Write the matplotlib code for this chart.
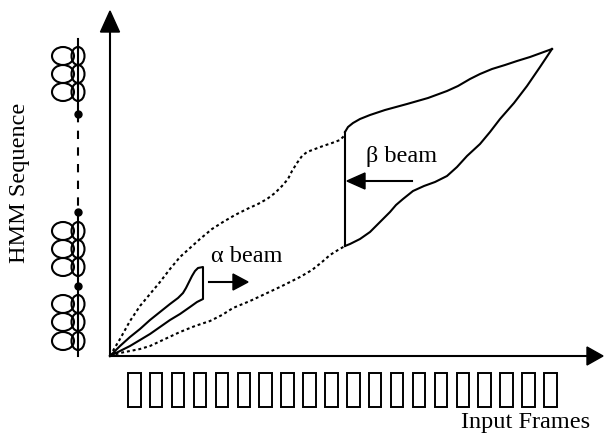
import matplotlib
matplotlib.use("Agg")
from matplotlib import pyplot as plt
from matplotlib.patches import Ellipse, Polygon, Rectangle

# all coordinates are in picture pixels (y goes down)
origin = (110, 357)

upper_dotted_x = [110, 114, 120, 130, 140, 150, 160, 170, 180, 190, 200, 212, 223, 235, 247,
                  258, 267, 275, 282, 288, 292, 297, 302, 307, 315, 323, 332, 340, 345]
upper_dotted_y = [357, 350, 340, 322, 307, 295, 283, 270, 258, 249, 240, 230, 223, 216, 210,
                  205, 200, 194, 187, 180, 172, 164, 157, 153, 150, 147, 144, 141, 136]

lower_dotted_x = [110, 120, 130, 140, 150, 165, 180, 195, 210, 222, 233, 250, 265, 282,
                  300, 312, 322, 330, 338, 345]
lower_dotted_y = [357, 354, 352, 350, 347, 340, 333, 327, 322, 316, 309, 302, 295, 287,
                  278, 271, 263, 256, 251, 247]

alpha_x = [110, 120, 130, 140, 150, 160, 170, 178, 183, 186, 189, 192, 195, 198, 203,
           203, 197, 190, 180, 170, 160, 150, 140, 130, 120, 110]
alpha_y = [357, 347, 338, 330, 321, 313, 305, 299, 294, 289, 283, 277, 272, 269, 268,
           300, 303, 308, 315, 321, 328, 335, 341, 347, 352, 357]

beta_upper_x = [345, 348, 353, 360, 370, 385, 407, 428, 447, 458, 470, 480, 492, 505, 517, 530, 541, 552]
beta_upper_y = [133, 128, 124, 120, 116, 111, 105, 99, 92, 87, 80, 75, 70, 66, 62, 58, 54, 50]
beta_lower_x = [552, 540, 527, 514, 500, 490, 480, 467, 457, 447, 435, 424, 413, 403, 396,
                390, 380, 370, 360, 350, 345]
beta_lower_y = [50, 68, 87, 104, 120, 133, 145, 157, 168, 177, 183, 187, 192, 200, 206,
                213, 223, 233, 240, 245, 247]
beta_edge_x = 345

n_frames = 20
frame_x0, frame_pitch = 128, 21.9

hmm_groups = [[57, 75, 93], [232, 250, 268], [305, 323, 342]]
hmm_dots = [115, 213, 287]

fig = plt.figure(figsize=(6.04, 4.35), dpi=100)
ax = fig.add_axes([0, 0, 1, 1])
ax.set_xlim(0, 604)
ax.set_ylim(435, 0)
ax.axis('off')

lw = 1.5
dots = (0, (1.4, 1.4))
serif = ['Liberation Serif', 'DejaVu Serif']

# axes with arrow heads
ax.plot([origin[0], origin[0]], [origin[1], 30], color='k', lw=lw)
ax.add_patch(Polygon([(110, 12), (100.5, 33), (119.5, 33)], color='k'))
ax.plot([origin[0], 590], [origin[1], origin[1]], color='k', lw=lw)
ax.add_patch(Polygon([(603, 357), (587, 348), (587, 366)], color='k'))

# search bounds
ax.plot(upper_dotted_x, upper_dotted_y, color='k', lw=1.5, ls=dots)
ax.plot(lower_dotted_x, lower_dotted_y, color='k', lw=1.5, ls=dots)

# alpha beam
ax.plot(alpha_x, alpha_y, color='k', lw=lw, solid_joinstyle='round')
ax.plot([209, 236], [283, 283], color='k', lw=lw)
ax.add_patch(Polygon([(248, 283), (233, 275), (233, 291)], color='k'))
ax.text(211, 257, '\u03b1 beam', fontsize=17.5, family=serif, va='center', ha='left')

# beta beam
ax.plot(beta_upper_x, beta_upper_y, color='k', lw=lw, solid_joinstyle='round')
ax.plot(beta_lower_x, beta_lower_y, color='k', lw=lw, solid_joinstyle='round')
ax.plot([beta_edge_x, beta_edge_x], [beta_upper_y[0], beta_lower_y[-1]], color='k', lw=lw)
ax.plot([412, 362], [182, 182], color='k', lw=lw)
ax.add_patch(Polygon([(347, 182), (365, 174), (365, 190)], color='k'))
ax.text(366, 157, '\u03b2 beam', fontsize=17.5, family=serif, va='center', ha='left')

# input frames
for i in range(n_frames):
    ax.add_patch(Rectangle((frame_x0 + i * frame_pitch, 374), 12.5, 33.5,
                           fill=False, ec='k', lw=1.4))
ax.text(590, 423, 'Input Frames', fontsize=17.5, family=serif, ha='right', va='center')

# HMM state chain
chain_x = 78
ax.plot([chain_x, chain_x], [40, hmm_dots[0]], color='k', lw=lw)
ax.plot([chain_x, chain_x], [hmm_dots[0], hmm_dots[1]], color='k', lw=lw, ls=(0, (4, 4)))
ax.plot([chain_x, chain_x], [hmm_dots[1], 357], color='k', lw=lw)
for grp in hmm_groups:
    for cy in grp:
        ax.add_patch(Ellipse((63, cy), 22, 18, fill=False, ec='k', lw=lw))
        ax.add_patch(Ellipse((chain_x, cy), 13, 18, fill=False, ec='k', lw=lw))
for dy in hmm_dots:
    ax.plot(chain_x, dy, 'o', color='k', ms=5)

ax.text(20, 183, 'HMM Sequence', fontsize=17.5, family=serif, rotation=90,
        ha='center', va='center')

fig.savefig('out.png', dpi=100)
